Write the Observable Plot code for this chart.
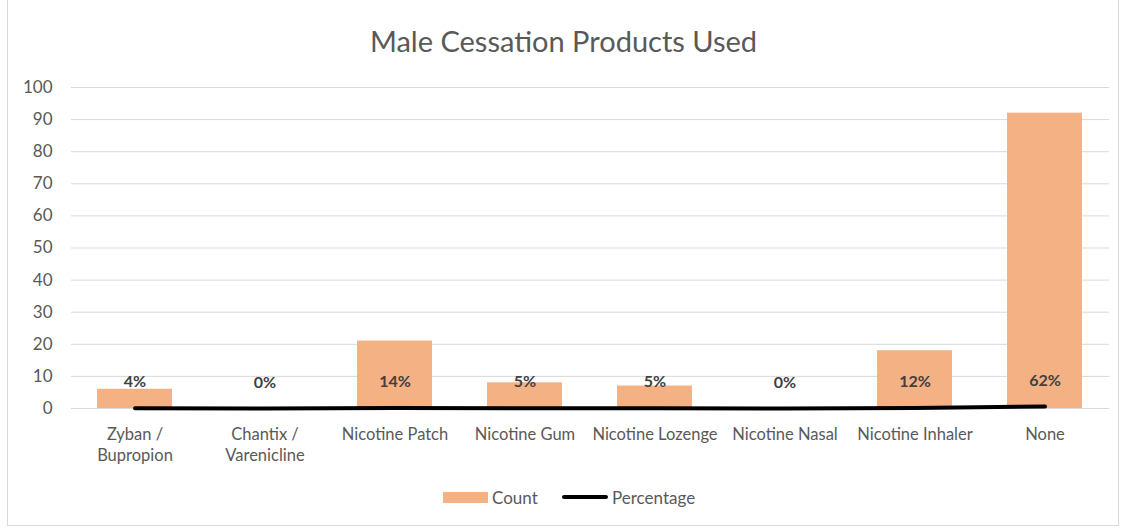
<!DOCTYPE html>
<html>
<head>
<meta charset="utf-8">
<script src="https://cdn.jsdelivr.net/npm/d3@7"></script>
<script src="https://cdn.jsdelivr.net/npm/@observablehq/plot@0.6"></script>
<style>
  html, body { margin: 0; padding: 0; background: #fff; }
  #frame { position: absolute; left: 7px; top: -1px; width: 1112px; height: 527px; border: 1px solid #d9d9d9; box-sizing: border-box; }
  #wrap { position: absolute; left: 0; top: 0; width: 1127px; height: 529px; font-family: Lato, "Open Sans", sans-serif; }
  #title { height: 70px; line-height: 82px; text-align: center; font-size: 29px; color: #595959; }
  #legend { position: absolute; top: 489px; left: 0; width: 1127px; height: 22px; font-size: 17px; color: #595959; }
  .sw { position: absolute; }
</style>
</head>
<body>
<div id="frame"></div>
<div id="wrap">
  <div id="title">Male Cessation Products Used</div>
  <div id="chart"></div>
  <div id="legend">
    <div class="sw" style="left:443px;top:3px;width:45px;height:11px;background:#F4B183"></div>
    <div class="sw" style="left:492px;top:-2px;">Count</div>
    <div class="sw" style="left:562px;top:6px;width:46px;height:4px;border-radius:2px;background:#000"></div>
    <div class="sw" style="left:612px;top:-2px;">Percentage</div>
  </div>
</div>
<script>
const categories = ["Zyban /\nBupropion", "Chantix /\nVarenicline", "Nicotine Patch", "Nicotine Gum", "Nicotine Lozenge", "Nicotine Nasal", "Nicotine Inhaler", "None"];
const counts = [6, 0, 21, 8, 7, 0, 18, 92];
const percentages = [0.04, 0.00, 0.14, 0.05, 0.05, 0.00, 0.12, 0.62];
const yTicks = [0, 10, 20, 30, 40, 50, 60, 70, 80, 90, 100];

const data = categories.map((c, i) => ({cat: c, count: counts[i], pct: percentages[i]}));

const chart = Plot.plot({
  width: 1127,
  height: 400,
  marginTop: 17,
  marginBottom: 62,
  marginLeft: 71,
  marginRight: 18,
  style: {fontFamily: "Lato, 'Open Sans', sans-serif", fontSize: "16px", color: "#595959", background: "transparent"},
  x: {domain: categories, paddingInner: 0.42, paddingOuter: 0.2, label: null},
  y: {domain: [0, 100], label: null},
  marks: [
    Plot.ruleY(yTicks, {stroke: "#d9d9d9", strokeWidth: 1}),
    Plot.barY(data, {x: "cat", y: "count", fill: "#F4B183"}),
    Plot.lineY(data, {x: "cat", y: "pct", stroke: "#000", strokeWidth: 4, strokeLinecap: "round"}),
    Plot.text(data, {x: "cat", y: "pct", text: d => Math.round(d.pct * 100) + "%", dy: -26, fill: "#404040", fontWeight: "bold", fontSize: 16}),
    Plot.axisY({ticks: yTicks, tickSize: 0, tickPadding: 19, fill: "#595959", fontSize: 17}),
    Plot.axisX({tickSize: 0, tickPadding: 16, fill: "#595959", fontSize: 16.5, lineHeight: 1.3, textAnchor: "middle"})
  ]
});
document.getElementById("chart").appendChild(chart);
</script>
</body>
</html>
